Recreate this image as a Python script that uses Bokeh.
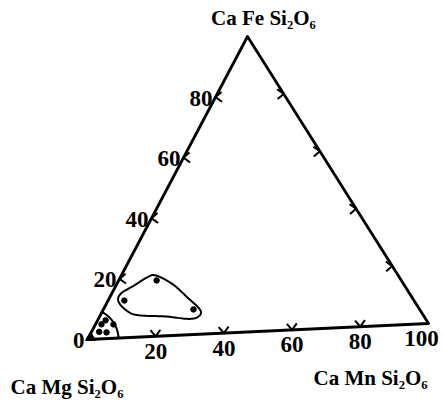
import numpy as np
from bokeh.plotting import figure
from bokeh.models import Range1d
from bokeh.core.properties import value
from bokeh.embed import file_html
from bokeh.resources import INLINE

# ---------------- data ----------------
top_label = "Ca Fe Si₂O₆"
left_label = "Ca Mg Si₂O₆"
right_label = "Ca Mn Si₂O₆"

left_ticks = [0, 20, 40, 60, 80]        # CaFeSi2O6 % along the Mg-Fe edge
bottom_ticks = [20, 40, 60, 80, 100]    # CaMnSi2O6 % along the Mg-Mn edge
right_ticks = [20, 40, 60, 80]          # CaFeSi2O6 % along the Mn-Fe edge

# group 1 samples (mol% CaMnSi2O6, mol% CaFeSi2O6)
group1_mn = [2.4, 5.4, 2.3, 4.6, 1.8]
group1_fe = [6.2, 4.7, 2.4, 2.1, 4.9]
group1_radius = 9.1

# group 2 samples
group2_mn = [11.4, 4.9, 27.1]
group2_fe = [18.9, 12.6, 8.5]

# end member point
end_mn = [0.0]
end_fe = [0.0]

# outline of group 2 field
outline_mn = [10.3, 16.6, 23.3, 29.4, 29.5, 26.7, 20.3, 12.1, 8.1, 3.5, 2.7, 5.4, 8.1]
outline_fe = [20.6, 17.5, 12.7, 8.0, 5.8, 5.4, 6.5, 7.3, 8.6, 12.1, 14.9, 17.5, 20.1]

# ---------------- layout ----------------
W, H = 443, 401
A = np.array([87.0, 339.0])   # CaMgSi2O6 corner
B = np.array([428.0, 323.0])  # CaMnSi2O6 corner
C = np.array([247.0, 36.0])   # CaFeSi2O6 corner


def tern(mn, fe):
    mn = np.asarray(mn, dtype=float) / 100.0
    fe = np.asarray(fe, dtype=float) / 100.0
    x = A[0] + (B[0] - A[0]) * mn + (C[0] - A[0]) * fe
    y = A[1] + (B[1] - A[1]) * mn + (C[1] - A[1]) * fe
    return x, y


def unit(v):
    v = np.asarray(v, dtype=float)
    return v / np.hypot(*v)


def rot(v, deg):
    t = np.radians(deg)
    return np.array([v[0] * np.cos(t) - v[1] * np.sin(t), v[0] * np.sin(t) + v[1] * np.cos(t)])


def catmull_closed(xs, ys, n=12):
    pts = np.column_stack([xs, ys])
    m = len(pts)
    out = []
    for i in range(m):
        p0, p1, p2, p3 = pts[(i - 1) % m], pts[i], pts[(i + 1) % m], pts[(i + 2) % m]
        for t in np.linspace(0, 1, n, endpoint=False):
            t2, t3 = t * t, t * t * t
            out.append(0.5 * ((2 * p1) + (-p0 + p2) * t + (2 * p0 - 5 * p1 + 4 * p2 - p3) * t2
                              + (-p0 + 3 * p1 - 3 * p2 + p3) * t3))
    out.append(out[0])
    out = np.array(out)
    return out[:, 0], out[:, 1]


p = figure(width=W, height=H, x_range=Range1d(0, W), y_range=Range1d(H, 0),
           output_backend="svg", toolbar_location=None, min_border=0,
           x_axis_type=None, y_axis_type=None)
p.outline_line_color = None
p.background_fill_color = "white"

# triangle frame
tx, ty = tern([0, 100, 0, 0], [0, 0, 100, 0])
p.line(tx, ty, line_width=2.8, color="black", line_join="round")

# tick marks (chevrons pointing inward)
xs, ys = [], []
L = 8.0
d_left = unit(B - A)
for v in left_ticks[1:]:
    px, py = tern(0, v)
    for ang in (-38, 38):
        d = rot(d_left, ang)
        xs.append([px, px + L * d[0]]); ys.append([py, py + L * d[1]])
d_bot = unit(rot(unit(B - A), -90))
for v in bottom_ticks[:-1]:
    px, py = tern(v, 0)
    for ang in (-38, 38):
        d = rot(d_bot, ang)
        xs.append([px, px + L * d[0]]); ys.append([py, py + L * d[1]])
d_right = unit(A - B)
for v in right_ticks:
    px, py = tern(100 - v, v)
    for ang in (-38, 38):
        d = rot(d_right, ang)
        xs.append([px, px + L * d[0]]); ys.append([py, py + L * d[1]])
p.multi_line(xs, ys, line_width=2.0, color="black")

# group 1 field: arc around the CaMgSi2O6 corner
r = group1_radius / 100.0 * np.hypot(*(B - A))
a0 = np.arctan2(*(unit(B - A)[::-1]))
a1 = np.arctan2(*(unit(C - A)[::-1]))
th = np.linspace(a0, a1, 60)
p.line(A[0] + r * np.cos(th), A[1] + r * np.sin(th), line_width=2.0, color="black")

# group 2 field outline
ox, oy = tern(outline_mn, outline_fe)
sx, sy = catmull_closed(ox, oy)
p.line(sx, sy, line_width=2.0, color="black")

# points
gx, gy = tern(group1_mn, group1_fe)
p.scatter(gx, gy, size=5.5, color="black")
gx2, gy2 = tern(group2_mn, group2_fe)
p.scatter(gx2, gy2, size=5.5, color="black")
ex, ey = tern(end_mn, end_fe)
p.scatter(ex + 3, ey - 2, marker="triangle", size=10, color="black")

font = value("Liberation Serif")

# tick labels
lx, ly = tern([0] * len(left_ticks), left_ticks)
p.text(x=lx - 3, y=ly + 1, text=[str(v) for v in left_ticks], text_font=font,
       text_font_style="bold", text_font_size="23px", text_align="right",
       text_baseline="middle", color="black")
bx, by = tern(bottom_ticks, [0] * len(bottom_ticks))
bx = np.minimum(bx, W - 22)
p.text(x=bx, y=by + 15, text=[str(v) for v in bottom_ticks], text_font=font,
       text_font_style="bold", text_font_size="23px", text_align="center",
       text_baseline="middle", color="black")

# corner labels
p.text(x=[263], y=[17], text=[top_label], text_font=font, text_font_style="bold",
       text_font_size="21px", text_align="center", text_baseline="middle", color="black")
p.text(x=[10], y=[386], text=[left_label], text_font=font, text_font_style="bold",
       text_font_size="21px", text_align="left", text_baseline="middle", color="black")
p.text(x=[313], y=[377], text=[right_label], text_font=font, text_font_style="bold",
       text_font_size="21px", text_align="left", text_baseline="middle", color="black")

open("out.html", "w").write(file_html(p, INLINE))
